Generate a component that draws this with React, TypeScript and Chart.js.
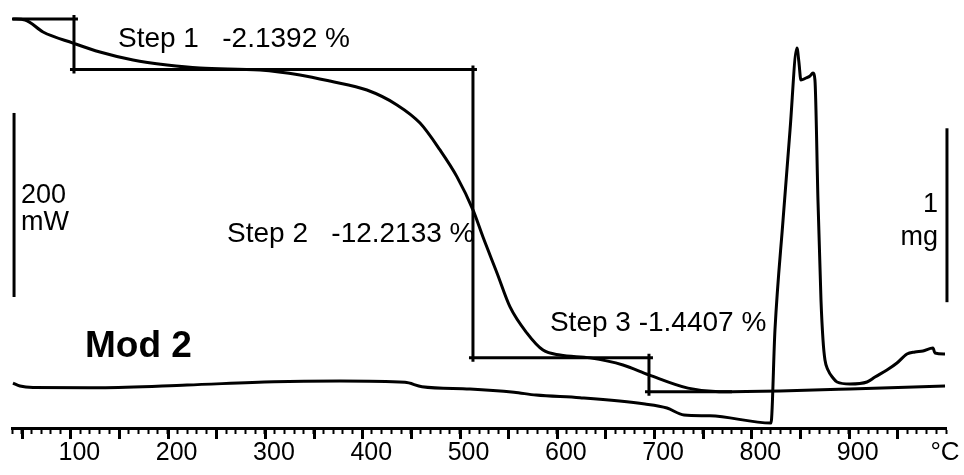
import React, { useEffect, useRef } from 'react';
import { Chart, registerables } from 'chart.js';

Chart.register(...registerables);

// ---------- data ----------
// TG curve: temperature (°C) vs. remaining mass (%)
const tgTemp = [41.0, 53.4, 71.9, 102.7, 130.4, 164.4, 199.3, 233.2, 294.9, 336.0, 366.8, 404.8, 435.7, 459.4, 479.9, 497.4, 513.8, 524.1, 538.5, 551.9, 569.3, 585.8, 603.3, 634.1, 668.0, 694.7, 734.8, 766.7, 829.4, 901.3, 999.0];
const tgMass = [100.0, 99.96, 99.45, 98.98, 98.6, 98.26, 98.05, 97.92, 97.84, 97.63, 97.37, 96.99, 96.36, 95.59, 94.45, 93.31, 91.91, 90.76, 89.24, 87.8, 86.69, 85.97, 85.76, 85.64, 85.34, 84.92, 84.36, 84.21, 84.24, 84.32, 84.45];

// DSC curve: temperature (°C) vs. heat flow (mW)
const dscTemp = [41.0, 48.2, 61.6, 130.4, 219.9, 309.3, 377.1, 443.9, 461.4, 510.7, 556.0, 578.6, 623.8, 690.6, 713.2, 730.7, 757.4, 820.1, 824.2, 832.5, 839.7, 846.8, 848.8, 850.9, 856.1, 860.2, 863.3, 865.3, 868.4, 871.5, 873.6, 875.6, 878.7, 883.9, 888.0, 901.3, 918.8, 927.0, 939.3, 949.6, 959.9, 968.1, 976.3, 986.6, 988.7, 999.0];
const dscHeat = [2.2, -1.1, -2.7, -2.9, 0.0, 3.6, 4.3, 2.9, -1.8, -4.3, -7.9, -10.9, -13.8, -20.7, -25.0, -32.6, -33.4, -41.3, 59.8, 179.3, 277.2, 366.3, 351.1, 331.5, 333.7, 335.9, 339.1, 331.5, 201.1, 92.4, 48.9, 27.2, 16.3, 7.6, 3.3, 1.1, 3.3, 8.7, 16.3, 23.9, 33.7, 35.9, 37.0, 40.2, 34.8, 33.7];

// Mass-loss steps
const stepNames = ['Step 1', 'Step 2', 'Step 3'];
const stepLoss = [2.1392, 12.2133, 1.4407]; // %
const stepBounds = [40, 103.7, 513.8, 694.7, 780]; // °C
const stepGaps = ['   ', '   ', ' '];
const stepLabelTemp = [148.9, 261.0, 592.9];
const stepLabelMass = [98.81, 90.55, 86.78];

// Axis ticks
const xMin = 40;
const xMax = 1000;
const minorStep = 10;
const majorTicks = [50, 100, 150, 200, 250, 300, 350, 400, 450, 500, 550, 600, 650, 700, 750, 800, 850, 900, 950];
const labelledTicks = [100, 200, 300, 400, 500, 600, 700, 800, 900];
const unitLabel = '°C';

// Scale bars
const dscBarValue = 200; // mW
const dscBarStart = 95.7;
const dscBarTemp = 42.1;
const massBarValue = 1; // mg
const sampleMassMg = 13.57;
const massBarStart = 88.0;
const massBarTemp = 1001.0;
const sampleName = 'Mod 2';

const FONT = '"Liberation Sans", Arial, Helvetica, sans-serif';

const OVER_T = 4.1; // overshoot of the step brackets in °C
const OVER_M = 0.17; // overshoot in %

function buildStepSegments() {
  const levels = [100];
  stepLoss.forEach((l, i) => levels.push(levels[i] - l));
  const segs: { x: number; y: number }[][] = [];
  for (let i = 0; i < levels.length; i++) {
    const a = stepBounds[i];
    const b = stepBounds[i + 1];
    segs.push([
      { x: i === 0 ? a : a - OVER_T, y: levels[i] },
      { x: i === levels.length - 1 ? b : b + OVER_T, y: levels[i] },
    ]);
    if (i < levels.length - 1) {
      segs.push([
        { x: b, y: levels[i] + OVER_M },
        { x: b, y: levels[i + 1] - OVER_M },
      ]);
    }
  }
  return segs;
}

const annotationPlugin = {
  id: 'tgaAnnotations',
  afterDraw(chart: any) {
    const { ctx } = chart;
    const xs = chart.scales.x;
    const ys = chart.scales.y;
    const yd = chart.scales.y1;
    ctx.save();
    ctx.strokeStyle = '#000';
    ctx.fillStyle = '#000';
    ctx.lineCap = 'butt';

    // long ticks every 50 °C
    ctx.lineWidth = 3;
    for (const t of majorTicks) {
      const px = Math.round(xs.getPixelForValue(t)) + 0.5;
      ctx.beginPath();
      ctx.moveTo(px, xs.top);
      ctx.lineTo(px, xs.top + 11);
      ctx.stroke();
    }

    // scale bars
    ctx.lineWidth = 3;
    const lx = xs.getPixelForValue(dscBarTemp);
    ctx.beginPath();
    ctx.moveTo(lx, yd.getPixelForValue(dscBarStart));
    ctx.lineTo(lx, yd.getPixelForValue(dscBarStart + dscBarValue));
    ctx.stroke();

    const rx = xs.getPixelForValue(massBarTemp);
    const massBarPct = (massBarValue / sampleMassMg) * 100;
    ctx.beginPath();
    ctx.moveTo(rx, ys.getPixelForValue(massBarStart));
    ctx.lineTo(rx, ys.getPixelForValue(massBarStart + massBarPct));
    ctx.stroke();

    // texts
    ctx.textBaseline = 'alphabetic';
    ctx.font = `28px ${FONT}`;
    ctx.textAlign = 'left';
    stepNames.forEach((n, i) => {
      const txt = `${n}${stepGaps[i]}-${stepLoss[i].toFixed(4)} %`;
      ctx.fillText(txt, xs.getPixelForValue(stepLabelTemp[i]), ys.getPixelForValue(stepLabelMass[i]));
    });

    ctx.font = `27px ${FONT}`;
    ctx.textAlign = 'left';
    ctx.fillText(String(dscBarValue), xs.getPixelForValue(49.2), yd.getPixelForValue(197.8));
    ctx.fillText('mW', xs.getPixelForValue(49.2), yd.getPixelForValue(168.5));

    ctx.textAlign = 'right';
    ctx.fillText(String(massBarValue), xs.getPixelForValue(991.7), ys.getPixelForValue(91.82));
    ctx.fillText('mg', xs.getPixelForValue(991.7), ys.getPixelForValue(90.42));

    ctx.font = `bold 37px ${FONT}`;
    ctx.textAlign = 'left';
    ctx.fillText(sampleName, xs.getPixelForValue(115.0), yd.getPixelForValue(30.4));

    ctx.font = `26px ${FONT}`;
    ctx.textAlign = 'center';
    ctx.fillText(unitLabel, xs.getPixelForValue(999), xs.top + 32);

    ctx.restore();
  },
};

export default function App() {
  const canvasRef = useRef<HTMLCanvasElement | null>(null);

  useEffect(() => {
    if (!canvasRef.current) return;
    const lineStyle = {
      borderColor: '#000',
      borderWidth: 3,
      pointRadius: 0,
      showLine: true,
      fill: false,
    };
    const segs = buildStepSegments();
    const datasets: any[] = [
      {
        ...lineStyle,
        label: 'TG',
        data: tgTemp.map((t, i) => ({ x: t, y: tgMass[i] })),
        yAxisID: 'y',
        cubicInterpolationMode: 'monotone',
      },
      {
        ...lineStyle,
        label: 'DSC',
        data: dscTemp.map((t, i) => ({ x: t, y: dscHeat[i] })),
        yAxisID: 'y1',
        cubicInterpolationMode: 'monotone',
      },
      ...segs.map((s, i) => ({
        ...lineStyle,
        label: `step-${i}`,
        data: s,
        yAxisID: 'y',
        tension: 0,
      })),
    ];

    const chart = new Chart(canvasRef.current, {
      type: 'scatter',
      data: { datasets },
      plugins: [annotationPlugin],
      options: {
        animation: false,
        responsive: false,
        devicePixelRatio: 1,
        layout: { padding: { left: 12, right: 18, top: 10, bottom: 0 } },
        plugins: {
          legend: { display: false },
          tooltip: { enabled: false },
        },
        scales: {
          x: {
            type: 'linear',
            position: 'bottom',
            min: xMin,
            max: xMax,
            border: { display: true, color: '#000', width: 3 },
            grid: {
              display: true,
              drawOnChartArea: false,
              drawTicks: true,
              tickLength: 6,
              tickWidth: 2,
              tickColor: '#000',
            },
            ticks: {
              stepSize: minorStep,
              autoSkip: false,
              maxRotation: 0,
              minRotation: 0,
              color: '#000',
              padding: 4,
              labelOffset: 9,
              font: { family: FONT, size: 25 },
              callback: (v: any) => (labelledTicks.includes(Number(v)) ? String(v) : ''),
            },
            afterFit: (s: any) => {
              s.height = 47;
            },
          },
          y: {
            type: 'linear',
            display: false,
            min: 82.669,
            max: 100.381,
          },
          y1: {
            type: 'linear',
            display: false,
            min: -46.7,
            max: 407.6,
          },
        },
      } as any,
    });
    return () => chart.destroy();
  }, []);

  return (
    <div style={{ position: 'absolute', left: 0, top: 0, width: 964, height: 475, background: '#fff' }}>
      <canvas ref={canvasRef} width={964} height={475} style={{ display: 'block' }} />
    </div>
  );
}
